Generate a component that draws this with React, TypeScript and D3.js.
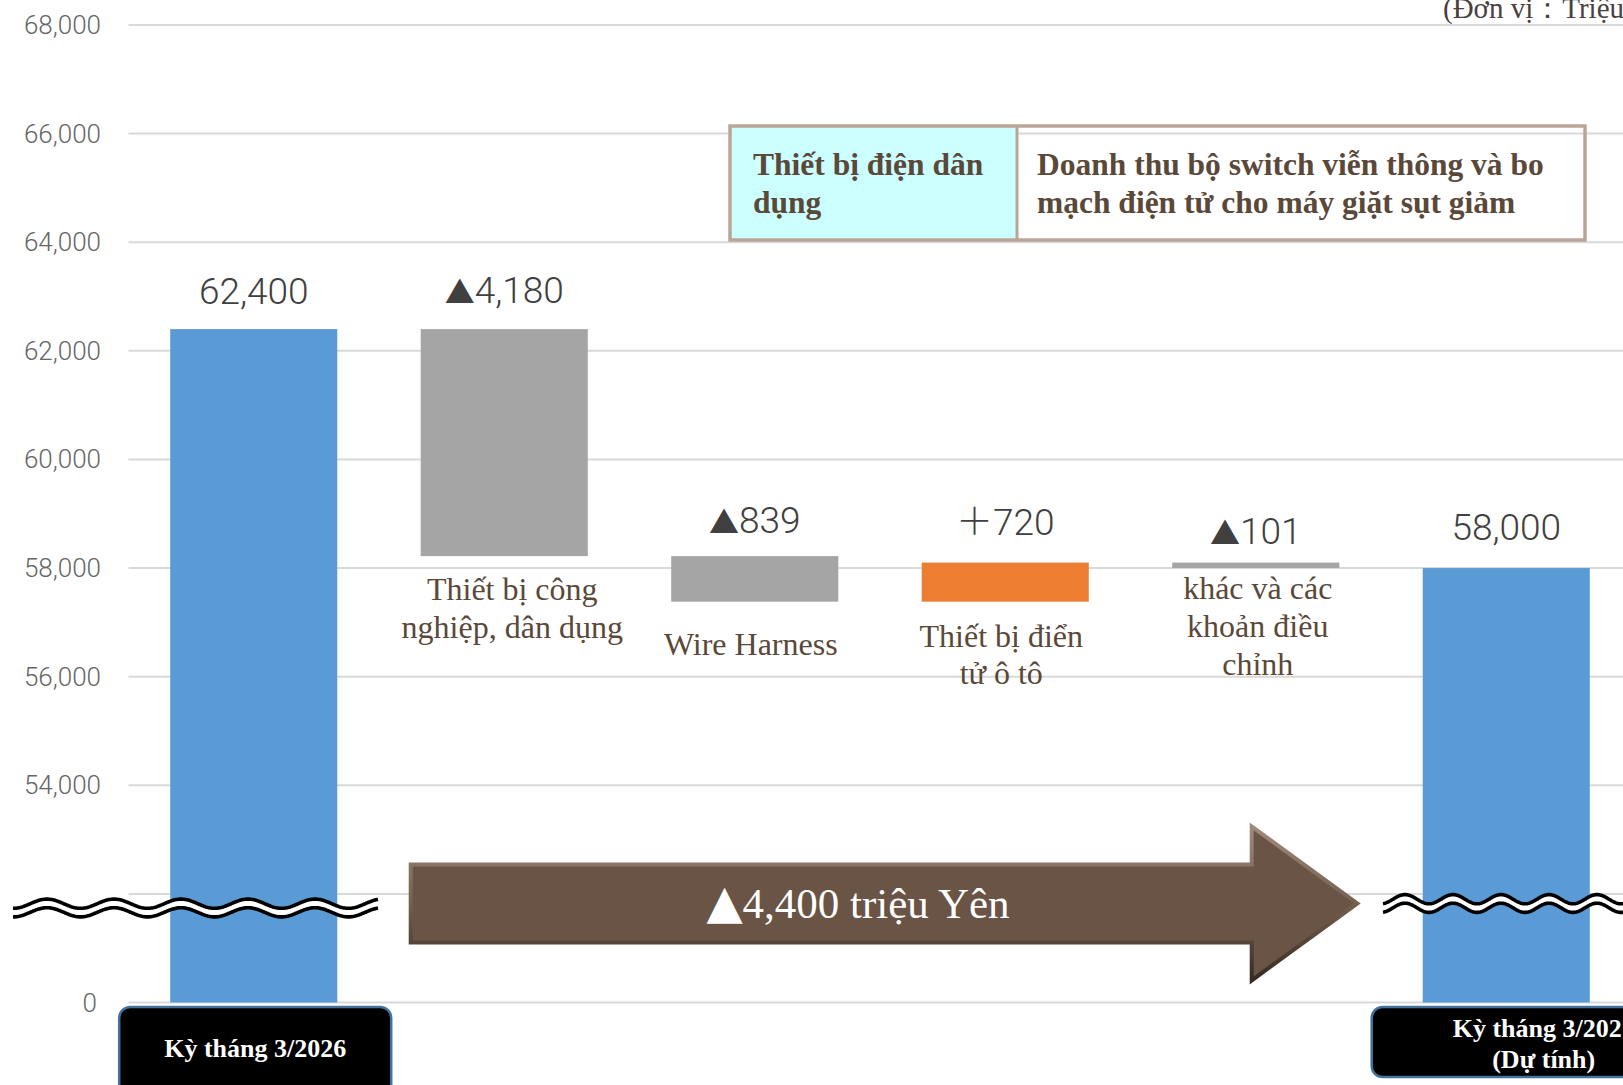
import React from "react";
import * as d3 from "d3";

// ---- data ----
const categories = [
  "Kỳ tháng 3/2026",
  "Thiết bị công nghiệp, dân dụng",
  "Wire Harness",
  "Thiết bị điển tử ô tô",
  "khác và các khoản điều chỉnh",
  "Kỳ tháng 3/2027 (Dự tính)",
];
const barKinds = ["total", "delta", "delta", "delta", "delta", "total"];
const barValues = [62400, -4180, -839, 720, -101, 58000];
const categoryLines: string[][] = [
  ["Kỳ tháng 3/2026"],
  ["Thiết bị công", "nghiệp, dân dụng"],
  ["Wire Harness"],
  ["Thiết bị điển", "tử ô tô"],
  ["khác và các", "khoản điều", "chỉnh"],
  ["Kỳ tháng 3/2027", "(Dự tính)"],
];
const tickValues = [50000, 52000, 54000, 56000, 58000, 60000, 62000, 64000, 66000, 68000];
const totalChange = -4400;
const legendLeft = ["Thiết bị điện dân", "dụng"];
const legendRight = ["Doanh thu bộ switch viễn thông và bo", "mạch điện tử cho máy giặt sụt giảm"];
const unitText = "(Đơn vị：Triệu Yên)";

// ---- layout ----
const W = 1623;
const H = 1085;
const AXIS_FLOOR = 50000; // the axis is broken below 52,000; the floor reads as 0
const BREAK_VALUE = 52000;
const plotLeft = 128.5;
const step = 250.5;
const valueGap = [25, 26, 23, 28, 19, 28];
const catGap = [0, 44, 53, 45, 31, 0];
const catShift = [0, 8, -4, -4, 2, 0];
const SERIF = "'Liberation Serif', 'Times New Roman', 'DejaVu Serif', serif";
const SANS = "Roboto, 'Noto Sans', 'DejaVu Sans', 'Noto Sans CJK JP', sans-serif";
const TRI = "'DejaVu Sans', sans-serif";
const BROWN = "#5a4839";

const fmt = d3.format(",");

const y = d3.scaleLinear().domain([AXIS_FLOOR, 68000]).range([1002.5, 25]);
const x = d3
  .scaleBand<number>()
  .domain(d3.range(categories.length))
  .range([plotLeft, plotLeft + step * categories.length])
  .paddingInner(0.333)
  .paddingOuter(0.1665);

// running totals for the waterfall
type Bar = { i: number; lo: number; hi: number; kind: string; v: number; color: string; sign: string; num: string };
const bars: Bar[] = (() => {
  let running = 0;
  return barValues.map((v, i) => {
    let lo: number, hi: number;
    if (barKinds[i] === "total") {
      lo = AXIS_FLOOR;
      hi = v;
      running = v;
    } else {
      const next = running + v;
      lo = Math.min(running, next);
      hi = Math.max(running, next);
      running = next;
    }
    const color = barKinds[i] === "total" ? "#5b9bd5" : v < 0 ? "#a5a5a5" : "#ed7d31";
    const sign = barKinds[i] === "total" ? "" : v < 0 ? "▲" : "＋";
    const num = fmt(Math.abs(v));
    return { i, lo, hi, kind: barKinds[i], v, color, sign, num };
  });
})();

function wavePath(x0: number, x1: number, cy: number, amp: number, len: number, crestX: number) {
  const pts = d3
    .range(x0, x1 + 1, 1)
    .map((px) => [px, cy - amp * Math.cos((2 * Math.PI * (px - crestX)) / len)] as [number, number]);
  return d3.line()(pts) || "";
}

function BreakMark({ x0, x1, cy, len, crestX }: { x0: number; x1: number; cy: number; len: number; crestX: number }) {
  const sep = 4.3;
  return (
    <g>
      <path d={wavePath(x0, x1, cy, 4.6, len, crestX)} fill="none" stroke="#fff" strokeWidth={9} />
      <path d={wavePath(x0, x1, cy - sep, 4.6, len, crestX)} fill="none" stroke="#000" strokeWidth={3.6} />
      <path d={wavePath(x0, x1, cy + sep, 4.6, len, crestX)} fill="none" stroke="#000" strokeWidth={3.6} />
    </g>
  );
}

export default function App() {
  const bw = x.bandwidth();

  // arrow summarising the overall change, spanning the delta columns
  const aLeft = (x(1) as number) - 12;
  const aHeadBase = (x(5) as number) - 173;
  const aTip = (x(5) as number) - 62;
  const aMid = y(BREAK_VALUE) + 9.5;
  const shaftHalf = 41;
  const headHalf = 81;
  const outer = [
    [aLeft, aMid - shaftHalf],
    [aHeadBase, aMid - shaftHalf],
    [aHeadBase, aMid - headHalf],
    [aTip, aMid],
    [aHeadBase, aMid + headHalf],
    [aHeadBase, aMid + shaftHalf],
    [aLeft, aMid + shaftHalf],
  ];
  const b = 4;
  const inner = [
    [aLeft + b, aMid - shaftHalf + b],
    [aHeadBase + b, aMid - shaftHalf + b],
    [aHeadBase + b, aMid - headHalf + 8],
    [aTip - 7, aMid],
    [aHeadBase + b, aMid + headHalf - 8],
    [aHeadBase + b, aMid + shaftHalf - b],
    [aLeft + b, aMid + shaftHalf - b],
  ];
  const poly = (p: number[][]) => p.map((q) => q.join(",")).join(" ");

  return (
    <svg
      width={W}
      height={H}
      viewBox={`0 0 ${W} ${H}`}
      style={{ position: "absolute", left: 0, top: 0, background: "#fff" }}
    >
      <defs>
        <linearGradient id="arrowEdge" x1="0" y1="0" x2="0" y2="1">
          <stop offset="0%" stopColor="#a08b7d" />
          <stop offset="50%" stopColor="#75604f" />
          <stop offset="100%" stopColor="#33271f" />
        </linearGradient>
      </defs>

      {/* gridlines */}
      {tickValues.map((t) => (
        <line key={t} x1={plotLeft} x2={W} y1={y(t)} y2={y(t)} stroke="#d9d9d9" strokeWidth={2} />
      ))}

      {/* y-axis labels */}
      {tickValues.map((t) =>
        t === BREAK_VALUE ? null : (
          <text
            key={"l" + t}
            x={t === AXIS_FLOOR ? 97 : 101}
            y={y(t) + 9}
            textAnchor="end"
            fontFamily={SANS}
            fontSize={26}
            fontWeight={300}
            fill="#666666"
          >
            {t === AXIS_FLOOR ? "0" : fmt(t)}
          </text>
        )
      )}

      {/* unit note */}
      <text x={1443} y={18} fontFamily={SERIF} fontSize={29} fill="#4a4040">
        {unitText}
      </text>

      {/* bars */}
      {bars.map((d) => (
        <rect
          key={"b" + d.i}
          x={x(d.i)}
          y={y(d.hi)}
          width={bw}
          height={Math.max(y(d.lo) - y(d.hi), 1)}
          fill={d.color}
        />
      ))}

      {/* value labels */}
      {bars.map((d) => (
        <text
          key={"v" + d.i}
          x={(x(d.i) as number) + bw / 2}
          y={y(d.hi) - valueGap[d.i]}
          textAnchor="middle"
          fontFamily={SANS}
          fontSize={37}
          fontWeight={300}
          fill="#404040"
        >
          {d.sign === "▲" ? (
            <tspan fontSize={30}>{d.sign}</tspan>
          ) : d.sign ? (
            <tspan>{d.sign}</tspan>
          ) : null}
          <tspan>{d.num}</tspan>
        </text>
      ))}

      {/* category labels under the change bars */}
      {bars
        .filter((d) => d.kind === "delta")
        .map((d) => (
          <text key={"c" + d.i} textAnchor="middle" fontFamily={SERIF} fontSize={32} fill={BROWN}>
            {categoryLines[d.i].map((ln, k) => (
              <tspan
                key={k}
                x={(x(d.i) as number) + bw / 2 + catShift[d.i]}
                y={y(d.lo) + catGap[d.i] + k * 37.8}
              >
                {ln}
              </tspan>
            ))}
          </text>
        ))}

      {/* axis break marks */}
      <BreakMark x0={13} x1={378} cy={908} len={67} crestX={47} />
      <BreakMark x0={1383} x1={W} cy={903.5} len={48} crestX={1405} />

      {/* overall change arrow */}
      <polygon points={poly(outer)} fill="url(#arrowEdge)" />
      <polygon points={poly(inner)} fill="#6a5446" />
      <text x={858} y={aMid + 14.5} textAnchor="middle" fontFamily={SERIF} fontSize={43} fill="#ffffff">
        <tspan fontFamily={TRI} fontSize={47}>
          ▲
        </tspan>
        <tspan>{fmt(-totalChange) + " triệu Yên"}</tspan>
      </text>

      {/* legend box */}
      <rect x={730} y={126} width={287} height={114} fill="#ccffff" />
      <rect x={730} y={126} width={855} height={114} fill="none" stroke="#bba596" strokeWidth={3.5} />
      <line x1={1017} x2={1017} y1={126} y2={240} stroke="#bba596" strokeWidth={3} />
      <text fontFamily={SERIF} fontSize={31.5} fontWeight={700} fill={BROWN}>
        {legendLeft.map((ln, k) => (
          <tspan key={k} x={753} y={175 + k * 38}>
            {ln}
          </tspan>
        ))}
      </text>
      <text fontFamily={SERIF} fontSize={31.5} fontWeight={700} fill={BROWN}>
        {legendRight.map((ln, k) => (
          <tspan key={k} x={1037} y={175 + k * 38}>
            {ln}
          </tspan>
        ))}
      </text>

      {/* period boxes under the total bars */}
      {bars
        .filter((d) => d.kind === "total")
        .map((d) => {
          const lines = categoryLines[d.i];
          const bx = (x(d.i) as number) - 51;
          const bwid = lines.length > 1 ? 344 : 272;
          const bh = lines.length > 1 ? 70 : 90;
          const cx = bx + bwid / 2;
          const y0 = lines.length > 1 ? 1037 : 1057;
          return (
            <g key={"p" + d.i}>
              <rect x={bx} y={1007} width={bwid} height={bh} rx={11} fill="#000" stroke="#41719c" strokeWidth={2.5} />
              <text textAnchor="middle" fontFamily={SERIF} fontSize={26} fontWeight={700} fill="#fff">
                {lines.map((ln, k) => (
                  <tspan key={k} x={cx} y={y0 + k * 31}>
                    {ln}
                  </tspan>
                ))}
              </text>
            </g>
          );
        })}
    </svg>
  );
}
